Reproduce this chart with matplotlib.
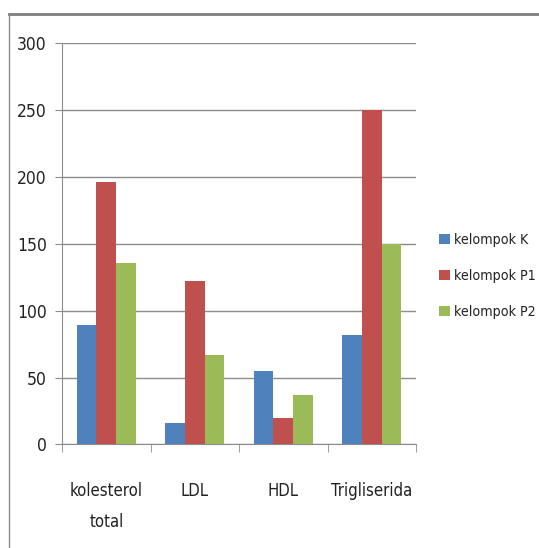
import numpy as np
import matplotlib.pyplot as plt
from matplotlib.lines import Line2D

categories = ['kolesterol\ntotal', 'LDL', 'HDL', 'Trigliserida']
kelompok_k = [89, 16, 55, 82]
kelompok_p1 = [196, 122, 20, 250]
kelompok_p2 = [136, 67, 37, 150]
series_names = ['kelompok K', 'kelompok P1', 'kelompok P2']
colors = ['#4F81BD', '#C0504D', '#9BBB59']

plt.rcParams['font.family'] = ['DejaVu Sans']
plt.rcParams['font.stretch'] = 'condensed'

fig = plt.figure(figsize=(5.39, 5.48), dpi=100)
ax = fig.add_axes([0.115, 0.189, 0.657, 0.732])

x = np.arange(len(categories))
w = 1 / 4.5
for i, (vals, name, c) in enumerate(zip([kelompok_k, kelompok_p1, kelompok_p2], series_names, colors)):
    ax.bar(x + (i - 1) * w, vals, w, color=c, label=name, zorder=3)

ax.set_xlim(-0.5, len(categories) - 0.5)
ax.set_ylim(0, 300)
ax.set_yticks(range(0, 301, 50))
ax.yaxis.grid(True, color='#8c8c8c', linewidth=1, zorder=0)

# category labels sit between tick marks
ax.set_xticks(x)
ax.set_xticklabels(categories, fontsize=12, linespacing=1.9, va='top', color='#222222')
ax.tick_params(axis='x', length=0, pad=27)
ax.set_xticks(np.arange(-0.5, len(categories), 1), minor=True)
ax.tick_params(axis='x', which='minor', length=6, color='#8c8c8c')
ax.tick_params(axis='y', length=5, color='#8c8c8c', labelsize=12.5, pad=6,
               labelcolor='#222222')

for s in ['top', 'right']:
    ax.spines[s].set_visible(False)
for s in ['left', 'bottom']:
    ax.spines[s].set_color('#8c8c8c')

ax.legend(loc='center left', bbox_to_anchor=(1.065, 0.42), frameon=False,
          fontsize=10.2, handlelength=0.75, handleheight=0.75, handletextpad=0.3,
          labelspacing=1.55, borderaxespad=0, borderpad=0, labelcolor='#222222')

# outer chart frame (top and left edges visible)
fig.add_artist(Line2D([0.017, 1.0], [0.975, 0.975], color='#7f7f7f', linewidth=2,
                      transform=fig.transFigure))
fig.add_artist(Line2D([0.017, 0.017], [0.0, 0.975], color='#8c8c8c', linewidth=1,
                      transform=fig.transFigure))

fig.savefig('out.png', dpi=100)
